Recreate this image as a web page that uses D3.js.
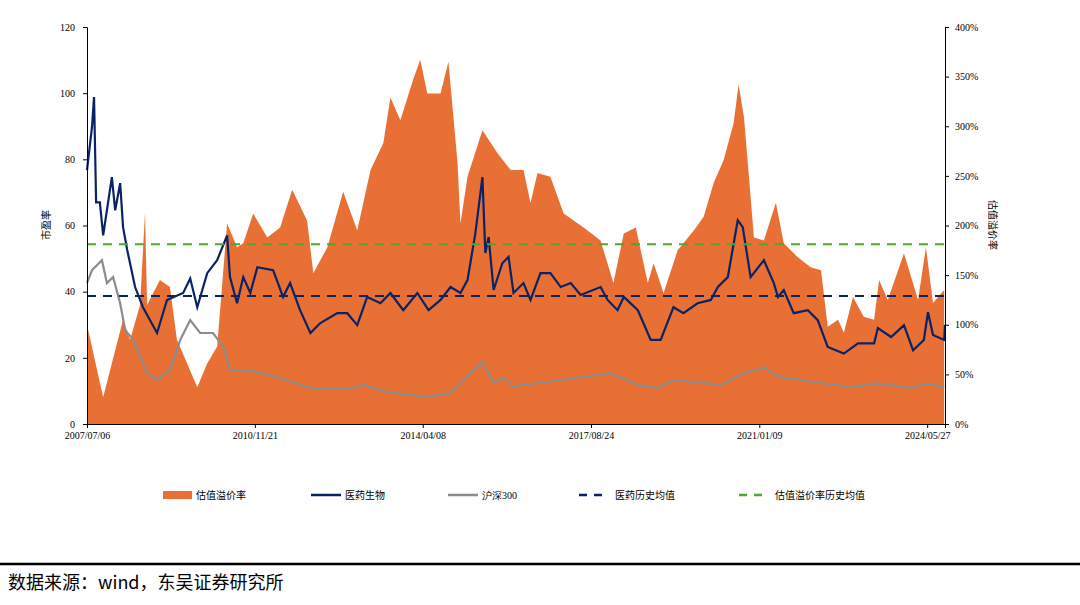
<!DOCTYPE html>
<html><head><meta charset="utf-8">
<script src="https://cdn.jsdelivr.net/npm/d3@7"></script>
<style>body{margin:0;background:#fff}svg{display:block}</style>
</head><body><svg id="c" width="1080" height="605"></svg>
<script>
// x data: months since 2007-07
const xTickMonths = [0, 40.5, 81, 121.6, 162.2, 202.7];
const xTickLabels = ["2007/07/06","2010/11/21","2014/04/08","2017/08/24","2021/01/09","2024/05/27"];
const xEndMonth = 207;
const peTicks = [0,20,40,60,80,100,120];
const premTicks = [0,50,100,150,200,250,300,350,400];

const premMonths = [0,3.9,8.7,10.4,12.8,14.0,14.5,17.6,20,21.7,26.6,29,31.4,33.8,36.2,37.7,40.1,43.5,46.6,49.5,53.1,54.6,58,61.8,65.2,68.4,71.5,73.2,75.6,78.7,80.4,82.1,85.3,87.2,89.4,90.1,91.8,95.4,99,102.2,105.3,107,108.7,111.8,115,119.8,123.9,127,129.5,132.4,135.3,136.7,139.1,142.5,146.4,148.8,151.2,153.6,156,157.2,158.5,159.7,160.9,163.3,166.2,168.1,171.5,174.6,177.1,178.7,181.2,182.6,184.8,187.4,189.9,191.1,193.2,197.1,200.5,202.4,204.1,206.8];
const premValues = [100,27,105,85,120,213,120,145,138,85,37,61,78,202,178,182,212,188,198,236,205,152,178,234,195,256,283,329,306,347,367,333,333,365,263,202,249,296,273,256,256,223,253,249,212,198,185,142,192,198,142,162,132,175,195,209,243,266,303,342,309,249,188,185,223,182,168,158,155,98,105,92,128,108,105,145,125,172,125,178,122,135];

const peMonths = [0,1.2,1.7,2.2,3.1,3.9,6,6.8,8,8.7,9.7,11.6,13.5,16.9,19.3,23.2,24.9,26.6,29,31.4,33.8,34.5,36.2,37.7,39.4,41.1,44.9,47.3,49,51.4,53.9,56.3,60.4,62.8,65.2,67.6,70.8,73.2,76.3,79.7,82.4,85.3,87.7,90.1,91.8,93.7,95.4,96.1,96.9,98.1,100.2,101.7,102.9,105.3,107,109.4,111.8,114.3,116.7,119.1,123.9,125.6,128,129.5,132.9,136,138.4,141.5,143.9,147.3,150.5,152.2,154.6,157,158.2,160.1,163.3,165.7,166.7,168.1,170.5,173.9,176.3,178.7,182.6,186,189.9,190.8,194,197.1,199.3,201.9,202.9,204.1,206.8,207];
const peValues = [76.7,89.7,98.8,67,67,57,74.6,64.6,72.8,59.5,52.6,41.4,35.3,27.5,37.5,39.6,44,35.3,45.6,49.5,57,44.4,36.5,44.4,39.6,47.4,46.5,38.4,42.6,34.4,27.5,30.5,33.5,33.5,29.9,38.4,36.5,39.6,34.4,39.6,34.4,37.5,41.4,39.6,43.5,57.7,74.6,51.7,56.5,40.5,48.6,50.5,39.6,42.6,37.5,45.6,45.6,41.4,42.6,39,41.4,37.5,34.4,38.4,34.4,25.4,25.4,35.3,33.5,36.5,37.5,41.4,44.4,61.6,59.5,44.4,49.5,42.6,38.4,40.5,33.5,34.4,31.4,23.3,21.3,24.4,24.4,29,26.3,29.9,22.3,25.4,33.8,26.9,25.4,30];

const hsMonths = [0,1.2,3.6,4.8,6.3,8,9.2,11.2,14.5,16.9,20,22.5,24.9,27.3,30.4,32.9,34.5,40.1,46.6,53.9,62.8,66.7,72.5,82.1,87.7,90.8,95.4,98.1,100.5,102.9,105.3,114.3,126.3,132.9,137.7,141.5,152.9,158.5,163.3,166.7,172.2,183.6,190.8,198.8,202.9,206.8];
const hsValues = [42.6,46.5,49.5,42.6,44.4,36.5,28.4,25.4,15.4,13.3,16.3,25.4,31.4,27.5,27.5,23.3,16.3,16,14,10.9,10.5,11.8,9.7,8.2,9.4,13.3,18.7,12.5,14,11.2,11.8,13.3,15.4,11.8,10.9,13.3,11.8,15.4,17.2,14.3,13.3,11.2,12.2,10.9,12.2,11.2];

const peMean = 38.7, premMean = 181;

const svg = d3.select("#c");
const L=87, R=945, T=27, B=424;
const x = d3.scaleLinear().domain([0,xEndMonth]).range([L,R]);
const yL = d3.scaleLinear().domain([0,120]).range([B,T]);
const yR = d3.scaleLinear().domain([0,400]).range([B,T]);
const serif = "'Liberation Serif','Times New Roman',serif";
const cjk = "'Noto Sans CJK SC',sans-serif";

svg.append("path").datum(d3.zip(premMonths,premValues))
  .attr("fill","#E87034")
  .attr("d", d3.area().x(d=>x(d[0])).y0(B).y1(d=>yR(d[1])));

svg.append("path").datum(d3.zip(hsMonths,hsValues))
  .attr("fill","none").attr("stroke","#8C8C8C").attr("stroke-width",2.2)
  .attr("d", d3.line().x(d=>x(d[0])).y(d=>yL(d[1])));
svg.append("path").datum(d3.zip(peMonths,peValues))
  .attr("fill","none").attr("stroke","#0A2366").attr("stroke-width",2.2)
  .attr("d", d3.line().x(d=>x(d[0])).y(d=>yL(d[1])));

svg.append("line").attr("x1",L).attr("x2",R).attr("y1",yL(peMean)).attr("y2",yL(peMean))
  .attr("stroke","#0A2366").attr("stroke-width",2).attr("stroke-dasharray","9,7");
svg.append("line").attr("x1",L).attr("x2",R).attr("y1",yR(premMean)).attr("y2",yR(premMean))
  .attr("stroke","#4EA72E").attr("stroke-width",2).attr("stroke-dasharray","9,7");

const axL = svg.append("g").attr("transform",`translate(${L},0)`).call(d3.axisLeft(yL).tickValues(peTicks).tickSize(4).tickPadding(8));
const axR = svg.append("g").attr("transform",`translate(${R},0)`).call(d3.axisRight(yR).tickValues(premTicks).tickSize(4).tickPadding(6).tickFormat(d=>d+"%"));
const axB = svg.append("g").attr("transform",`translate(0,${B})`).call(d3.axisBottom(x).tickValues(xTickMonths).tickSize(4).tickPadding(4).tickFormat((d,i)=>xTickLabels[i]));
[axL,axR,axB].forEach(a=>{a.selectAll("path,line").attr("stroke","#000");a.selectAll("text").attr("font-family",serif).attr("font-size",10).attr("fill","#000");});

svg.append("text").attr("transform","translate(50,225) rotate(-90)").attr("text-anchor","middle")
  .attr("font-family",cjk).attr("font-size",10).text("市盈率");
svg.append("text").attr("transform","translate(989,225) rotate(90)").attr("text-anchor","middle")
  .attr("font-family",cjk).attr("font-size",10).text("估值溢价率");

const lg = svg.append("g").attr("font-family",cjk).attr("font-size",10);
const ly = 495;
lg.append("rect").attr("x",163).attr("y",ly-4).attr("width",29).attr("height",8).attr("fill","#E87034");
lg.append("text").attr("x",196).attr("y",ly+4).text("估值溢价率");
lg.append("line").attr("x1",311).attr("x2",341).attr("y1",ly).attr("y2",ly).attr("stroke","#0A2366").attr("stroke-width",2.5);
lg.append("text").attr("x",345).attr("y",ly+4).text("医药生物");
lg.append("line").attr("x1",448).attr("x2",478).attr("y1",ly).attr("y2",ly).attr("stroke","#8C8C8C").attr("stroke-width",2.5);
lg.append("text").attr("x",482).attr("y",ly+4).attr("font-family",serif).text("沪深300");
lg.append("line").attr("x1",579).attr("x2",605).attr("y1",ly).attr("y2",ly).attr("stroke","#0A2366").attr("stroke-width",2.5).attr("stroke-dasharray","8,7");
lg.append("text").attr("x",615).attr("y",ly+4).text("医药历史均值");
lg.append("line").attr("x1",739).attr("x2",765).attr("y1",ly).attr("y2",ly).attr("stroke","#4EA72E").attr("stroke-width",2.5).attr("stroke-dasharray","8,7");
lg.append("text").attr("x",775).attr("y",ly+4).text("估值溢价率历史均值");

svg.append("line").attr("x1",0).attr("x2",1080).attr("y1",564).attr("y2",564).attr("stroke","#000").attr("stroke-width",2.5);
svg.append("text").attr("x",8).attr("y",589).attr("font-family","'Noto Sans CJK SC',serif").attr("font-size",18).text("数据来源：wind，东吴证券研究所");
</script></body></html>
